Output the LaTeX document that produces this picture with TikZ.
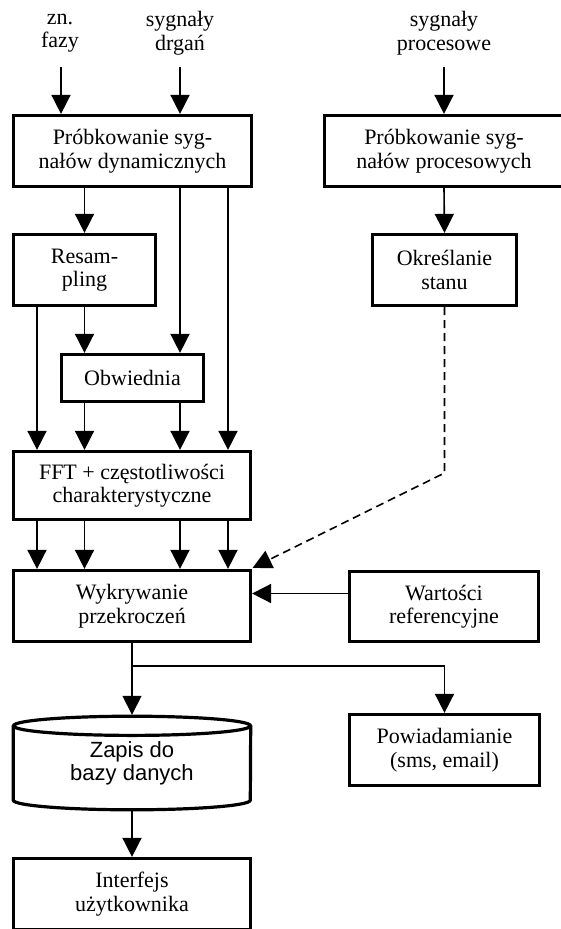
\documentclass[tikz,border=0pt]{standalone}
\usepackage{fontspec}
\setmainfont{Liberation Serif}
\newfontfamily\cylsans{Liberation Sans}
\usetikzlibrary{arrows.meta}
\begin{document}
\begin{tikzpicture}[x=1pt,y=-1pt,
  every node/.style={font=\fontsize{22}{23.5}\selectfont, align=center, inner sep=0pt},
  blk/.style={draw, line width=3.2pt},
  arr/.style={line width=1.6pt, -{Triangle[width=19pt,length=19pt]}},
  dsh/.style={dash pattern=on 8pt off 5pt}]
\useasboundingbox (0,0) rectangle (561,929);
% labels
\node (zn)  at (60,33)  {zn.\\fazy};
\node (drg) at (180,33) {sygnały\\drgań};
\node (prc) at (444,33) {sygnały\\procesowe};
\coordinate (zs) at (61,67);
\coordinate (ds) at (180,67);
\coordinate (ps) at (444,67);
% boxes
\node[blk, minimum width=238pt, minimum height=71pt] (pd) at (132.5,151) {Próbkowanie syg-\\nałów dynamicznych};
\node[blk, minimum width=239pt, minimum height=71pt] (pp) at (444,151) {Próbkowanie syg-\\nałów procesowych};
\node[blk, minimum width=142pt, minimum height=71pt] (res) at (84.5,270) {Resam-\\pling};
\node[blk, minimum width=144pt, minimum height=71pt] (okr) at (444.5,270) {Określanie\\stanu};
\node[blk, minimum width=142pt, minimum height=47pt] (obw) at (132.5,378) {Obwiednia};
\node[blk, minimum width=237pt, minimum height=68pt] (fft) at (132,485.5) {FFT + częstotliwości\\charakterystyczne};
\node[blk, minimum width=237pt, minimum height=71pt] (wyk) at (132,606) {Wykrywanie\\przekroczeń};
\node[blk, minimum width=189pt, minimum height=70pt] (war) at (444,606.5) {Wartości\\referencyjne};
\node[blk, minimum width=190pt, minimum height=71pt] (pow) at (444.5,750) {Powiadamianie\\(sms, email)};
\node[blk, minimum width=237pt, minimum height=71pt] (int) at (132,894) {Interfejs\\użytkownika};
% cylinder
\node[minimum width=240pt, minimum height=96pt, font=\cylsans\fontsize{22}{23}\selectfont] (cyl) at (132,763) {Zapis do\\bazy danych};
\draw[line width=3.2pt] ([yshift=-11pt]cyl.north) ellipse [x radius=118.5pt, y radius=9.6pt];
\draw[line width=3.2pt] ([xshift=1.5pt,yshift=-11pt]cyl.north west) -- ([xshift=1.5pt,yshift=11pt]cyl.south west)
  arc[start angle=180, end angle=360, x radius=118.5pt, y radius=9.6pt]
  -- ([xshift=-1.5pt,yshift=-11pt]cyl.north east);
% helper x positions
\coordinate (x37) at (37,0);
\coordinate (x180) at (180,0);
\coordinate (x228) at (228,0);
\coordinate (bend) at (444.5,473);
\coordinate (br) at (132,666);
% input arrows
\draw[arr] (zs) -- (zs |- pd.north);
\draw[arr] (ds) -- (ds |- pd.north);
\draw[arr] (ps) -- (ps |- pp.north);
% dynamic path
\draw[arr] (res.north |- pd.south) -- (res.north);
\draw[arr] (pd.south -| x180) -- (obw.north -| x180);
\draw[arr] (pd.south -| x228) -- (fft.north -| x228);
\draw[arr] (res.south) -- (res.south |- obw.north);
\draw[arr] (res.south -| x37) -- (fft.north -| x37);
\draw[arr] (obw.south -| res.south) -- (fft.north -| res.south);
\draw[arr] (obw.south -| x180) -- (fft.north -| x180);
\draw[arr] (fft.south -| x37) -- (wyk.north -| x37);
\draw[arr] (fft.south -| res.south) -- (wyk.north -| res.south);
\draw[arr] (fft.south -| x180) -- (wyk.north -| x180);
\draw[arr] (fft.south -| x228) -- (wyk.north -| x228);
% process path
\draw[arr] (pp.south) -- (okr.north);
\draw[arr, dsh] (okr.south) -- (bend) -- ([xshift=0.5pt,yshift=1pt]wyk.north east);
\draw[arr] ([yshift=13pt]war.west) -- ([yshift=13pt]war.west -| wyk.east);
% output
\draw[arr] (wyk.south) -- (cyl.north);
\draw[arr] (br) -- (br -| pow.north) -- (pow.north);
\draw[arr] (cyl.south) -- (int.north);
\end{tikzpicture}
\end{document}
